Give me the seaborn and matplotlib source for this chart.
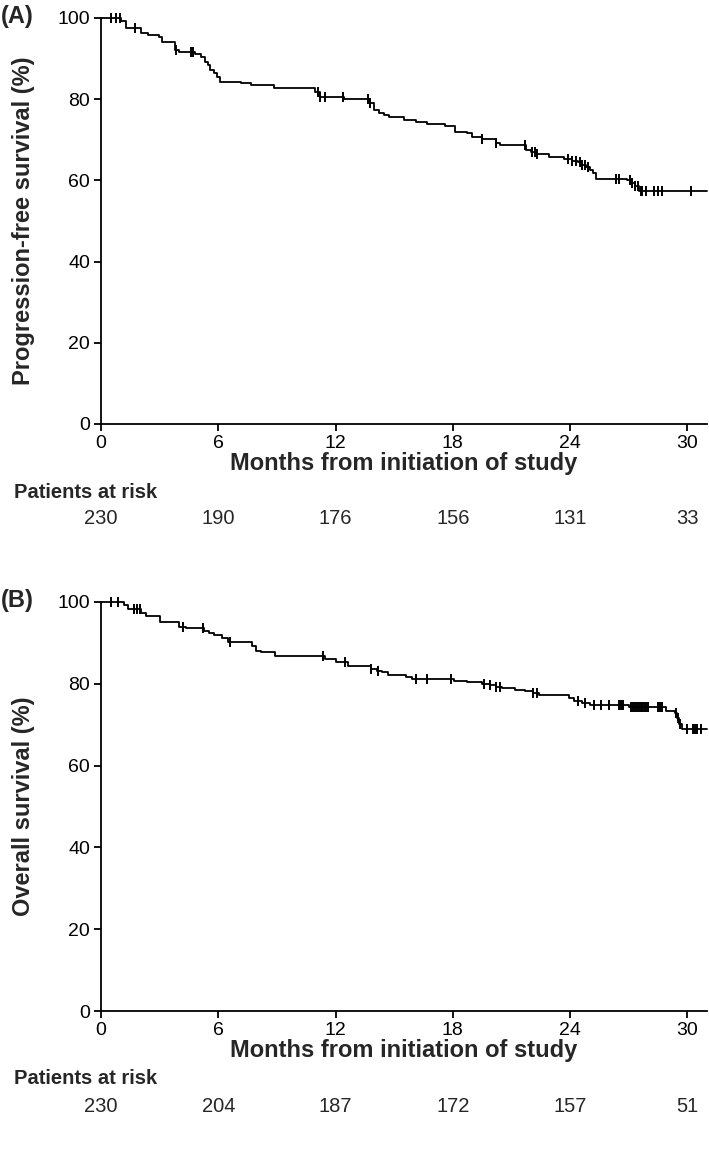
import numpy as np
import seaborn as sns
import matplotlib.pyplot as plt
from matplotlib.transforms import blended_transform_factory

# PFS step function (month, survival %)
pfs_t = [0, 1.0, 1.3, 2.05, 2.4, 2.95, 3.1, 3.8, 4.0, 4.8, 5.1, 5.3, 5.45, 5.6, 5.8,
         5.95, 6.1, 7.15, 7.65, 8.85, 10.95, 11.2, 12.45, 13.75, 13.95, 14.2, 14.5,
         14.75, 15.5, 16.1, 16.7, 17.6, 18.1, 18.7, 19.0, 19.5, 20.2, 20.4, 21.75,
         22.0, 22.3, 22.9, 23.7, 24.1, 24.4, 24.6, 24.8, 25.0, 25.15, 25.3, 26.9,
         27.1, 27.3, 27.5, 31.0]
pfs_s = [100, 99.2, 97.6, 96.3, 95.8, 95.3, 94.2, 92.1, 91.6, 91.1, 90.4, 89.2, 88.4,
         87.2, 86.4, 85.4, 84.3, 84.0, 83.6, 82.7, 81.8, 80.5, 80.0, 79.0, 77.3, 76.5,
         76.1, 75.7, 74.9, 74.3, 73.8, 73.4, 72.0, 71.6, 70.8, 70.3, 69.1, 68.7, 67.5,
         67.1, 66.5, 65.8, 65.2, 64.9, 64.5, 63.9, 63.3, 62.6, 61.7, 60.4, 60.0,
         59.4, 58.6, 57.5, 57.5]
pfs_cens = [0.5, 0.75, 0.95, 1.75, 3.85, 4.6, 4.7, 11.1, 11.2, 11.45, 12.4, 13.65,
            13.75, 19.5, 20.2, 21.7, 22.05, 22.2, 22.3, 23.9, 24.1, 24.3, 24.5, 24.6,
            24.75, 24.9, 26.35, 26.5, 27.05, 27.15, 27.3, 27.45, 27.6, 27.7, 27.9,
            28.3, 28.5, 28.7, 30.2]

# OS step function
os_t = [0, 1.2, 1.36, 2.05, 2.3, 3.0, 4.0, 4.35, 5.25, 5.5, 5.8, 6.2, 6.5, 7.7, 7.95,
        8.2, 8.9, 11.45, 12.0, 12.65, 13.8, 14.1, 14.4, 14.7, 15.6, 15.9, 18.05, 18.7,
        19.5, 19.9, 20.2, 20.5, 21.2, 21.7, 22.1, 22.4, 23.95, 24.2, 24.6, 25.0, 27.0,
        28.9, 29.35, 29.45, 29.55, 29.7, 31.0]
os_s = [100, 99.3, 98.4, 97.2, 96.6, 95.2, 94.0, 93.6, 93.0, 92.4, 91.9, 91.1, 90.3,
        89.3, 88.1, 87.7, 86.9, 86.1, 85.3, 84.3, 83.6, 83.2, 82.8, 82.2, 81.6, 81.2,
        80.8, 80.4, 80.0, 79.6, 79.2, 79.0, 78.6, 78.2, 77.8, 77.3, 76.5, 75.7, 75.3,
        74.9, 74.3, 73.3, 72.9, 71.7, 70.1, 69.0, 69.0]
os_cens = [0.5, 0.85, 1.7, 1.85, 1.97, 4.22, 5.2, 6.6, 11.35, 12.5, 13.8, 14.15, 16.1,
           16.7, 17.9, 19.6, 19.9, 20.2, 20.4, 22.1, 22.3, 24.4, 24.75, 25.2, 25.6,
           26.0, 26.5, 26.6, 26.7, 27.1, 27.2, 27.3, 27.4, 27.5, 27.6, 27.7, 27.8,
           27.9, 28.0, 28.5, 28.6, 28.7, 29.4, 29.5, 29.6, 30.0, 30.3, 30.4, 30.5, 30.7]

risk_months = [0, 6, 12, 18, 24, 30]
pfs_risk = ["230", "190", "176", "156", "131", "33"]
os_risk = ["230", "204", "187", "172", "157", "51"]

sns.set_style("ticks")
plt.rcParams['font.family'] = ['Liberation Sans', 'DejaVu Sans']

fig = plt.figure(figsize=(7.09, 11.53), dpi=100)
W, H = 709, 1153


def panel(top, bottom, times, surv, cens, ylabel, tag, risk):
    ax = fig.add_axes([101 / W, 1 - bottom / H, 606 / W, (bottom - top) / H])
    sns.lineplot(x=times, y=surv, drawstyle='steps-post', color='black', lw=1.3,
                 ax=ax, clip_on=False)
    t = np.array(times)
    idx = np.searchsorted(t, cens, side='right') - 1
    cy = np.array(surv)[idx]
    sns.scatterplot(x=cens, y=cy, marker='|', s=50, color='black', linewidth=1.4,
                    ax=ax, clip_on=False, zorder=3)
    ax.set_xlim(0, 31)
    ax.set_ylim(0, 100)
    ax.set_xticks(risk_months)
    ax.set_yticks([0, 20, 40, 60, 80, 100])
    sns.despine(ax=ax)
    for s in ['left', 'bottom']:
        ax.spines[s].set_linewidth(1.3)
        ax.spines[s].set_color('black')
    ax.tick_params(direction='out', length=5, width=1.3, labelsize=14, colors='black',
                   pad=3)
    ax.set_xlabel("Months from initiation of study", fontsize=17, fontweight='bold')
    ax.set_ylabel(ylabel, fontsize=17, fontweight='bold')
    ax.xaxis.label.set_va('center')
    ax.yaxis.label.set_va('center')
    ax.xaxis.set_label_coords(0.5, -(bottom + 40 - bottom) / (bottom - top))
    ax.yaxis.set_label_coords(-77 / 606, 0.5)
    fig.text(1 / W, 1 - (top - 1) / H, tag, fontsize=17, fontweight='bold',
             ha='left', va='center')
    fig.text(14 / W, 1 - (bottom + 68) / H, "Patients at risk", fontsize=14.5,
             fontweight='bold', ha='left', va='center')
    tr = blended_transform_factory(ax.transData, fig.transFigure)
    for m, n in zip(risk_months, risk):
        ax.text(m, 1 - (bottom + 95) / H, n, transform=tr, fontsize=14.5,
                ha='center', va='center')
    return ax


axA = panel(18, 424, pfs_t, pfs_s, pfs_cens, "Progression-free survival (%)", "(A)",
            pfs_risk)
axB = panel(602, 1011, os_t, os_s, os_cens, "Overall survival (%)", "(B)", os_risk)

fig.savefig("out.png", dpi=100)
